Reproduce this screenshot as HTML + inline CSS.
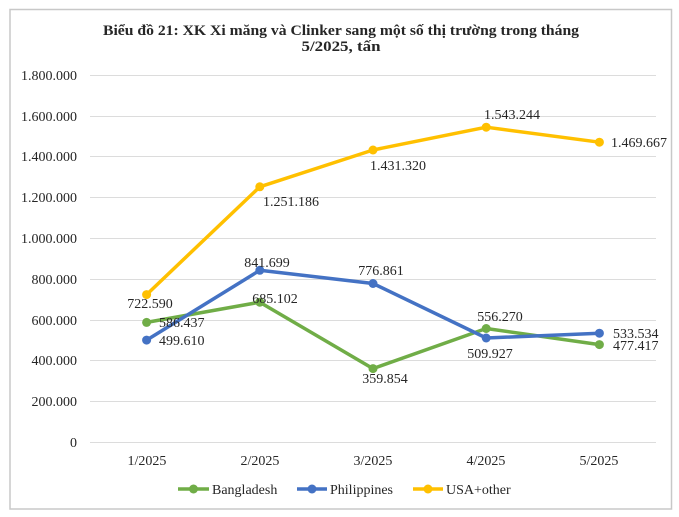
<!DOCTYPE html>
<html><head><meta charset="utf-8"><style>
html,body{margin:0;padding:0;background:#fff;}
svg{display:block;}
text{font-family:"Liberation Serif","DejaVu Serif",serif;fill:#262626;}
</style></head><body>
<svg width="679" height="517" viewBox="0 0 679 517" xmlns="http://www.w3.org/2000/svg">
<rect x="0" y="0" width="679" height="517" fill="#fff"/>
<rect x="10" y="9.5" width="661.5" height="499.5" fill="#fff" stroke="#c8c8c8" stroke-width="1.5"/>
<text x="341" y="35" text-anchor="middle" font-weight="bold" font-size="14.5" textLength="476" lengthAdjust="spacingAndGlyphs" fill="#111">Biểu đồ 21: XK Xi măng và Clinker sang một số thị trường trong tháng</text>
<text x="341" y="51" text-anchor="middle" font-weight="bold" font-size="14.5" textLength="79" lengthAdjust="spacingAndGlyphs" fill="#111">5/2025, tấn</text>
<g stroke="#dcdcdc" stroke-width="1">
<line x1="90" y1="75.5" x2="656" y2="75.5"/>
<line x1="90" y1="116.5" x2="656" y2="116.5"/>
<line x1="90" y1="156.5" x2="656" y2="156.5"/>
<line x1="90" y1="197.5" x2="656" y2="197.5"/>
<line x1="90" y1="238.5" x2="656" y2="238.5"/>
<line x1="90" y1="279.5" x2="656" y2="279.5"/>
<line x1="90" y1="320.5" x2="656" y2="320.5"/>
<line x1="90" y1="360.5" x2="656" y2="360.5"/>
<line x1="90" y1="401.5" x2="656" y2="401.5"/>
<line x1="90" y1="442.5" x2="656" y2="442.5"/>
</g>
<g font-size="14" text-anchor="end">
<text x="77" y="80">1.800.000</text>
<text x="77" y="121">1.600.000</text>
<text x="77" y="161">1.400.000</text>
<text x="77" y="202">1.200.000</text>
<text x="77" y="243">1.000.000</text>
<text x="77" y="284">800.000</text>
<text x="77" y="325">600.000</text>
<text x="77" y="365">400.000</text>
<text x="77" y="406">200.000</text>
<text x="77" y="447">0</text>
</g>
<g font-size="14" text-anchor="middle">
<text x="147" y="465">1/2025</text>
<text x="260" y="465">2/2025</text>
<text x="373" y="465">3/2025</text>
<text x="486" y="465">4/2025</text>
<text x="599" y="465">5/2025</text>
</g>
<!-- Bangladesh -->
<polyline points="146.6,322.4 259.8,302.2 373,368.6 486.2,328.5 599.4,344.6" fill="none" stroke="#70ad47" stroke-width="3.5" stroke-linejoin="round"/>
<g fill="#70ad47">
<circle cx="146.6" cy="322.4" r="4.5"/><circle cx="259.8" cy="302.2" r="4.5"/><circle cx="373" cy="368.6" r="4.5"/><circle cx="486.2" cy="328.5" r="4.5"/><circle cx="599.4" cy="344.6" r="4.5"/>
</g>
<!-- Philippines -->
<polyline points="146.6,340.1 259.8,270.3 373,283.5 486.2,338 599.4,333.2" fill="none" stroke="#4472c4" stroke-width="3.5" stroke-linejoin="round"/>
<g fill="#4472c4">
<circle cx="146.6" cy="340.1" r="4.5"/><circle cx="259.8" cy="270.3" r="4.5"/><circle cx="373" cy="283.5" r="4.5"/><circle cx="486.2" cy="338" r="4.5"/><circle cx="599.4" cy="333.2" r="4.5"/>
</g>
<!-- USA -->
<polyline points="146.6,294.6 259.8,186.8 373,150 486.2,127.2 599.4,142.2" fill="none" stroke="#ffc000" stroke-width="3.5" stroke-linejoin="round"/>
<g fill="#ffc000">
<circle cx="146.6" cy="294.6" r="4.5"/><circle cx="259.8" cy="186.8" r="4.5"/><circle cx="373" cy="150" r="4.5"/><circle cx="486.2" cy="127.2" r="4.5"/><circle cx="599.4" cy="142.2" r="4.5"/>
</g>
<!-- labels -->
<g font-size="14" fill="#262626">
<text x="150" y="308" text-anchor="middle">722.590</text>
<text x="263" y="206">1.251.186</text>
<text x="426" y="170" text-anchor="end">1.431.320</text>
<text x="512" y="119" text-anchor="middle">1.543.244</text>
<text x="611" y="147">1.469.667</text>
<text x="159" y="345">499.610</text>
<text x="267" y="267" text-anchor="middle">841.699</text>
<text x="381" y="275" text-anchor="middle">776.861</text>
<text x="490" y="358" text-anchor="middle">509.927</text>
<text x="613" y="338">533.534</text>
<text x="159" y="327">586.437</text>
<text x="275" y="303" text-anchor="middle">685.102</text>
<text x="385" y="383" text-anchor="middle">359.854</text>
<text x="500" y="321" text-anchor="middle">556.270</text>
<text x="613" y="350">477.417</text>
</g>
<!-- legend -->
<line x1="178" y1="489" x2="209" y2="489" stroke="#70ad47" stroke-width="3.5"/>
<circle cx="193.5" cy="489" r="4.5" fill="#70ad47"/>
<text x="212" y="494" font-size="14">Bangladesh</text>
<line x1="297" y1="489" x2="327" y2="489" stroke="#4472c4" stroke-width="3.5"/>
<circle cx="312" cy="489" r="4.5" fill="#4472c4"/>
<text x="330" y="494" font-size="14">Philippines</text>
<line x1="413" y1="489" x2="443" y2="489" stroke="#ffc000" stroke-width="3.5"/>
<circle cx="428" cy="489" r="4.5" fill="#ffc000"/>
<text x="446" y="494" font-size="14">USA+other</text>
</svg>
</body></html>
